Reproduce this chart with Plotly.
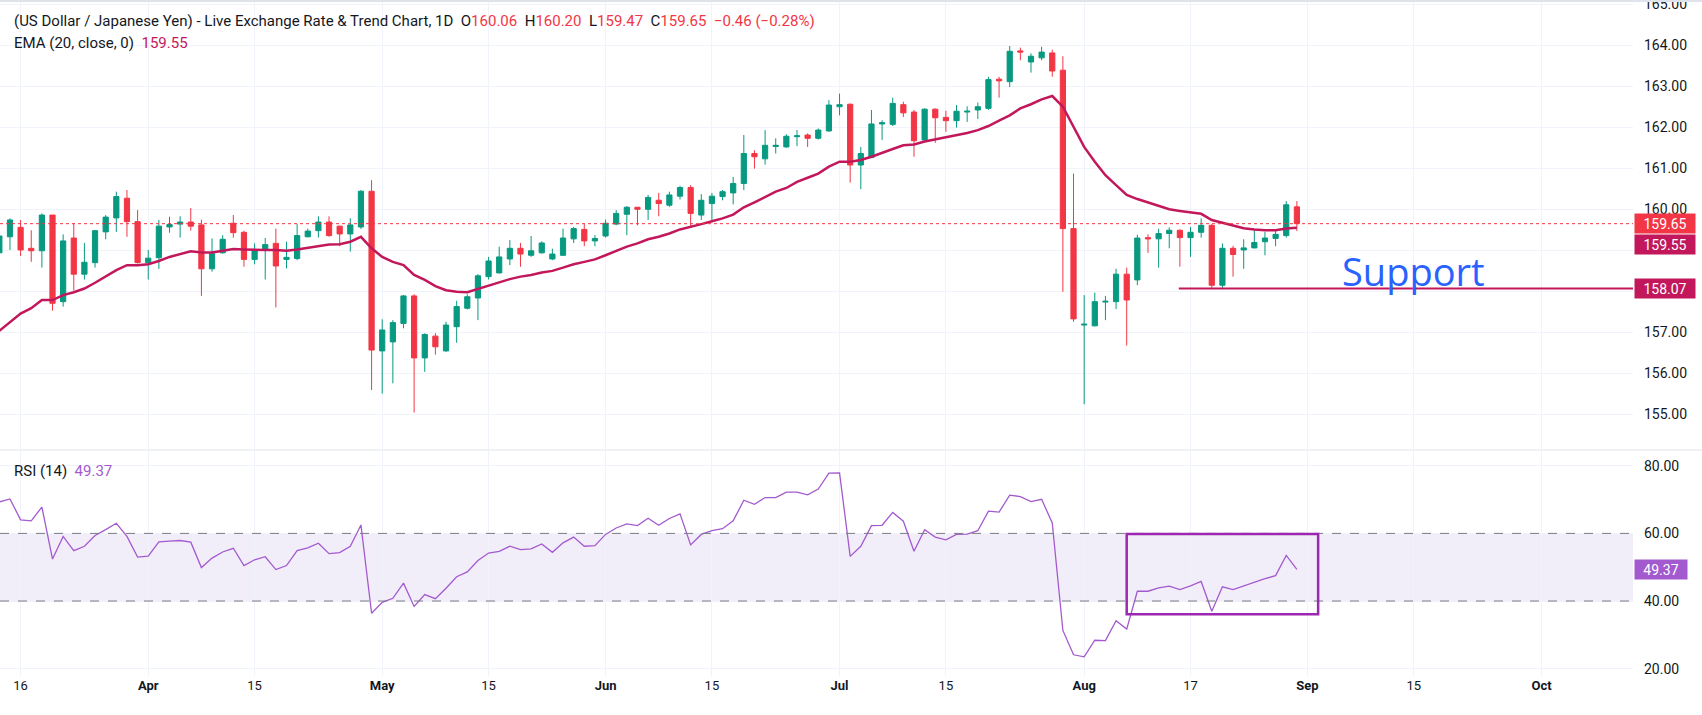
import pandas as pd
import plotly.graph_objects as go
from plotly.subplots import make_subplots

# trading days (candles centred at noon so weekend breaks don't clip them)
dates = pd.bdate_range("2026-03-12", "2026-08-31") + pd.Timedelta(hours=12)

open_ = [158.94, 159.33, 159.56, 159.05, 158.99, 159.86, 157.75, 159.30, 158.42, 158.70, 159.45, 159.79, 160.27, 159.70,
         158.70, 158.82, 159.57, 159.64, 159.69, 159.62, 158.55, 158.94, 159.66, 159.44, 158.78, 159.01, 159.17, 158.78,
         158.80, 159.33, 159.48, 159.69, 159.59, 159.40, 159.57, 160.44,
         156.55, 156.77, 157.22, 157.89, 156.38, 156.91, 156.55, 157.14, 157.59, 157.84, 158.36, 158.45, 158.79, 159.05,
         158.88, 158.94, 158.79, 158.88, 159.28, 159.51, 159.23,
         159.35, 159.64, 159.88, 160.05, 160.00, 160.22, 160.10, 160.32, 160.53, 159.86, 160.14, 160.31, 160.40, 160.63,
         161.36, 161.23, 161.53, 161.52, 161.77, 161.81, 161.73, 161.91,
         162.50, 162.56, 161.08, 161.26, 162.08, 162.07, 162.55, 162.37, 161.69, 162.44, 162.24, 162.16, 162.37, 162.42,
         162.46, 163.17, 163.11, 163.86, 163.59, 163.69, 163.81, 163.39, 159.53,
         157.18, 157.16, 157.74, 157.75, 158.42, 158.28, 159.31, 159.28, 159.41, 159.49, 159.31, 159.44, 159.61, 158.15,
         159.05, 159.01, 159.06, 159.21, 159.29, 159.36, 160.06]
high = [159.40, 159.78, 159.74, 159.49, 159.90, 159.86, 159.39, 159.67, 159.18, 159.49, 159.86, 160.43, 160.47, 159.98,
        159.01, 159.74, 159.82, 159.83, 160.03, 159.75, 159.29, 159.37, 159.86, 159.48, 159.17, 159.30, 159.53, 159.21,
        159.64, 159.53, 159.83, 159.83, 159.60, 159.78, 160.47, 160.71,
        157.32, 157.30, 157.91, 157.93, 156.98, 156.98, 157.26, 157.77, 157.93, 158.42, 158.84, 159.09, 159.25, 159.18,
        159.35, 159.22, 159.04, 159.53, 159.57, 159.64, 159.37,
        159.75, 159.98, 160.08, 160.06, 160.35, 160.40, 160.43, 160.57, 160.59, 160.37, 160.40, 160.47, 160.79, 161.81,
        161.44, 161.93, 161.73, 161.83, 161.93, 161.85, 161.97, 162.66,
        162.82, 162.58, 161.52, 162.42, 162.17, 162.72, 162.62, 162.42, 162.46, 162.46, 162.40, 162.54, 162.51, 162.60,
        163.23, 163.23, 163.98, 163.94, 163.80, 163.96, 163.89, 163.73, 160.87,
        157.91, 157.97, 157.89, 158.55, 158.58, 159.38, 159.39, 159.53, 159.56, 159.51, 159.57, 159.78, 159.64, 159.17,
        159.11, 159.27, 159.51, 159.45, 159.51, 160.20, 160.20]
low = [158.90, 159.01, 158.86, 158.72, 158.58, 157.53, 157.63, 158.02, 158.29, 158.58, 159.27, 159.45, 159.33, 158.68,
       158.29, 158.55, 159.43, 159.31, 159.48, 157.89, 158.48, 158.92, 159.31, 158.60, 158.66, 158.29, 157.61, 158.56,
       158.76, 159.32, 159.31, 159.33, 159.10, 158.97, 159.52, 155.60,
       155.51, 155.76, 157.10, 155.05, 156.04, 156.46, 156.53, 156.75, 157.56, 157.30, 158.29, 158.44, 158.64, 158.60,
       158.84, 158.92, 158.76, 158.86, 159.18, 159.10, 159.10,
       159.31, 159.61, 159.37, 159.61, 159.74, 159.83, 160.06, 160.24, 159.57, 159.74, 159.74, 160.22, 160.12, 160.47,
       160.99, 161.09, 161.36, 161.50, 161.54, 161.52, 161.70, 161.89,
       162.29, 160.65, 160.49, 161.25, 161.69, 162.03, 162.25, 161.28, 161.68, 161.62, 161.89, 161.99, 162.13, 162.20,
       162.42, 162.72, 162.98, 163.63, 163.33, 163.63, 163.23, 157.99, 157.26,
       155.25, 157.15, 157.30, 157.57, 156.68, 158.15, 158.94, 158.58, 159.05, 158.60, 158.84, 159.31, 158.07, 158.05,
       158.36, 158.55, 159.05, 158.88, 159.10, 159.31, 159.47]
close = [159.35, 159.74, 159.01, 158.99, 159.86, 157.71, 159.23, 158.42, 158.71, 159.48, 159.81, 160.31, 159.70, 158.70,
         158.81, 159.59, 159.63, 159.69, 159.59, 158.55, 158.92, 159.27, 159.43, 158.78, 158.99, 159.14, 158.62, 158.83,
         159.36, 159.47, 159.69, 159.36, 159.40, 159.62, 160.44, 156.57,
         157.06, 157.24, 157.89, 156.38, 156.95, 156.65, 157.18, 157.63, 157.87, 158.38, 158.74, 158.84, 159.05, 158.91,
         158.99, 159.18, 158.91, 159.30, 159.53, 159.23, 159.29,
         159.66, 159.90, 160.05, 160.00, 160.29, 160.14, 160.35, 160.53, 159.90, 160.22, 160.32, 160.43, 160.63, 161.36,
         161.28, 161.56, 161.56, 161.78, 161.79, 161.73, 161.93, 162.54,
         162.55, 161.08, 161.36, 162.08, 162.11, 162.58, 162.35, 161.67, 162.44, 162.23, 162.16, 162.39, 162.39, 162.50,
         163.16, 163.13, 163.85, 163.83, 163.73, 163.83, 163.37, 159.53, 157.33,
         157.20, 157.75, 157.76, 158.42, 157.79, 159.30, 159.28, 159.41, 159.49, 159.31, 159.44, 159.61, 158.15, 159.05,
         158.90, 159.06, 159.19, 159.30, 159.39, 160.11, 159.65]
ema20 = [157.04, 157.26, 157.46, 157.59, 157.79, 157.79, 157.91, 157.98, 158.07, 158.21, 158.36, 158.52, 158.64, 158.64,
         158.66, 158.74, 158.84, 158.91, 158.98, 158.95, 158.95, 158.99, 159.03, 159.02, 159.01, 159.01, 159.01, 158.99,
         159.02, 159.06, 159.11, 159.14, 159.15, 159.21, 159.33, 159.05,
         158.84, 158.72, 158.64, 158.40, 158.28, 158.13, 158.03, 157.99, 157.98, 158.06, 158.15, 158.23, 158.30, 158.36,
         158.40, 158.46, 158.50, 158.58, 158.66, 158.72, 158.78,
         158.88, 158.99, 159.09, 159.17, 159.27, 159.33, 159.41, 159.51, 159.57, 159.64, 159.71, 159.78, 159.87, 160.05,
         160.17, 160.31, 160.43, 160.52, 160.67, 160.77, 160.87, 161.04,
         161.16, 161.16, 161.20, 161.28, 161.38, 161.47, 161.56, 161.58, 161.65, 161.70, 161.75, 161.81, 161.86, 161.93,
         162.03, 162.16, 162.29, 162.46, 162.56, 162.68, 162.76, 162.50, 162.01,
         161.52, 161.16, 160.83, 160.59, 160.35, 160.25, 160.17, 160.09, 160.00, 159.96, 159.92, 159.89, 159.74, 159.67,
         159.60, 159.54, 159.51, 159.49, 159.49, 159.53, 159.55]
rsi14 = [69.3, 70.2, 64.0, 63.7, 67.8, 52.4, 59.1, 54.9, 56.2, 59.4, 61.1, 63.0, 59.1, 53.0,
         53.3, 57.5, 57.7, 57.9, 57.4, 49.9, 52.7, 54.5, 55.6, 50.5, 52.2, 53.1, 49.3, 50.5,
         54.9, 55.7, 57.1, 54.0, 54.3, 56.2, 62.5, 36.4,
         39.6, 40.8, 45.3, 38.4, 41.9, 40.7, 43.8, 47.2, 48.6, 52.0, 54.2, 54.7, 56.2, 55.2,
         55.4, 56.9, 54.4, 57.2, 58.9, 56.2, 56.4,
         59.7, 61.6, 62.8, 62.3, 64.5, 62.4, 64.4, 65.8, 56.6, 59.7, 60.8, 61.4, 63.7, 69.8,
         68.6, 70.6, 70.6, 72.2, 72.2, 71.4, 73.1, 77.8,
         77.9, 53.2, 56.2, 62.3, 62.4, 66.2, 63.6, 54.7, 61.1, 58.9, 58.1, 59.7, 59.8, 60.8,
         66.6, 66.3, 71.3, 70.9, 69.4, 70.1, 63.1, 31.3, 24.1,
         23.5, 28.4, 28.3, 34.2, 31.7, 42.9, 42.9, 43.9, 44.4, 43.4, 44.5, 45.8, 37.0, 44.2,
         43.4, 44.5, 45.7, 46.6, 47.5, 53.5, 49.37]

tick_dates = ["2026-03-16", "2026-04-01", "2026-04-15", "2026-05-01", "2026-05-15", "2026-06-01", "2026-06-15",
              "2026-07-01", "2026-07-15", "2026-08-03", "2026-08-17", "2026-09-01", "2026-09-15", "2026-10-01"]
tick_labels = ["16", "<b>Apr</b>", "15", "<b>May</b>", "15", "<b>Jun</b>", "15",
               "<b>Jul</b>", "15", "<b>Aug</b>", "17", "<b>Sep</b>", "15", "<b>Oct</b>"]
tick_x = [pd.Timestamp(d) + pd.Timedelta(hours=12) for d in tick_dates]

price_ticks = [155, 156, 157, 158, 159, 160, 161, 162, 163, 164, 165]
# 158 and 159 sit under the price tags
price_labels = ["155.00", "156.00", "157.00", "", "", "160.00", "161.00", "162.00", "163.00", "164.00", "165.00"]
rsi_ticks = [20, 40, 60, 80]
rsi_labels = ["20.00", "40.00", "60.00", "80.00"]

last_price = 159.65
support_level = 158.07
rsi_box = [("2026-08-07 12:00", "2026-09-02 12:00"), (36.1, 59.8)]

x_range = ["2026-03-12 13:30", "2026-10-14 02:30"]

GREEN = "#089981"
RED = "#F23645"
EMA_COL = "#C2185B"
RSI_COL = "#A35ACF"
TXT = "#131722"
GRID = "#F0F3FA"
FONT = "Roboto"

fig = make_subplots(rows=2, cols=1, shared_xaxes=True, vertical_spacing=0.003)

fig.add_trace(go.Candlestick(
    x=dates, open=open_, high=high, low=low, close=close,
    increasing=dict(line=dict(color=GREEN, width=1), fillcolor=GREEN),
    decreasing=dict(line=dict(color=RED, width=1), fillcolor=RED),
    hoverinfo="skip"), row=1, col=1)
fig.add_trace(go.Scatter(x=dates, y=ema20, mode="lines", line=dict(color=EMA_COL, width=2.5),
                         hoverinfo="skip"), row=1, col=1)
fig.add_trace(go.Scatter(x=dates, y=rsi14, mode="lines", line=dict(color=RSI_COL, width=1.3),
                         hoverinfo="skip"), row=2, col=1)

breaks = [dict(bounds=["sat", "mon"])]
fig.update_xaxes(range=x_range, rangebreaks=breaks, tickvals=tick_x, ticktext=tick_labels, automargin=False,
                 showgrid=True, gridcolor=GRID, gridwidth=1, zeroline=False, showline=False,
                 ticks="", tickfont=dict(family=FONT, size=13, color=TXT))
fig.update_xaxes(showticklabels=False, rangeslider_visible=False, row=1, col=1)

fig.update_yaxes(side="right", showgrid=True, gridcolor=GRID, zeroline=False, showline=False, ticks="",
                 automargin=False, ticklabeloverflow="allow",
                 tickfont=dict(family=FONT, size=14, color=TXT), ticklabelstandoff=10)
fig.update_yaxes(range=[154.16, 165.10], tickvals=price_ticks, ticktext=price_labels,
                 domain=[0.3358, 1], row=1, col=1)
fig.update_yaxes(range=[17.83, 84.36], tickvals=rsi_ticks, ticktext=rsi_labels,
                 domain=[0, 0.3328], row=2, col=1)

# RSI band and levels
fig.add_shape(type="rect", xref="x2 domain", yref="y2", x0=0, x1=1, y0=40, y1=60,
              fillcolor="rgba(126,87,194,0.1)", line_width=0, layer="below")
for lvl in (40, 60):
    fig.add_shape(type="line", xref="x2 domain", yref="y2", x0=0, x1=1, y0=lvl, y1=lvl,
                  line=dict(color="#787B86", width=1, dash="dash"))
fig.add_shape(type="rect", xref="x2", yref="y2", x0=rsi_box[0][0], x1=rsi_box[0][1],
              y0=rsi_box[1][0], y1=rsi_box[1][1], line=dict(color="#9C27B0", width=2.5))

# last price line, support line
fig.add_shape(type="line", xref="x domain", yref="y", x0=0, x1=1, y0=last_price, y1=last_price,
              line=dict(color=RED, width=1, dash="dot"))
fig.add_shape(type="line", xref="x", yref="y", x0="2026-08-14 09:30", x1=x_range[1],
              y0=support_level, y1=support_level, line=dict(color=EMA_COL, width=2))

# pane separator and borders
fig.add_shape(type="line", xref="paper", yref="paper", x0=0, x1=1.05, y0=0.3343, y1=0.3343,
              line=dict(color="#E0E3EB", width=1))
fig.add_shape(type="line", xref="paper", yref="paper", x0=0, x1=1.05, y0=1, y1=1,
              line=dict(color="#E0E3EB", width=4))

fig.add_annotation(x="2026-09-15 12:00", y=158.5, xref="x", yref="y", text="Support", showarrow=False,
                   font=dict(family="Open Sans", size=38, color="#2962FF"))

# price axis tags
tags = [(last_price, "159.65", RED, 0), (ema20[-1], "159.55", EMA_COL, -17), (support_level, "158.07", EMA_COL, 0)]
for val, txt, col, shift in tags:
    fig.add_annotation(x=1, xref="paper", y=val, yref="y", yshift=shift, xanchor="left", xshift=1,
                       text=txt, showarrow=False, bgcolor=col, width=58, height=17,
                       font=dict(family=FONT, size=14, color="white"))
fig.add_annotation(x=1, xref="paper", y=rsi14[-1], yref="y2", xanchor="left", xshift=1,
                   text="49.37", showarrow=False, bgcolor=RSI_COL, width=50, height=17,
                   font=dict(family=FONT, size=14, color="white"))

# legend texts
hdr = ("(US Dollar / Japanese Yen) - Live Exchange Rate &amp; Trend Chart, 1D&nbsp;&nbsp;"
       "O<span style='color:#F23645'>160.06</span>&nbsp;&nbsp;H<span style='color:#F23645'>160.20</span>&nbsp;&nbsp;"
       "L<span style='color:#F23645'>159.47</span>&nbsp;&nbsp;C<span style='color:#F23645'>159.65</span>&nbsp;&nbsp;"
       "<span style='color:#F23645'>−0.46 (−0.28%)</span>")
fig.add_annotation(x=0.0072, y=1 - 21 / 676, xref="paper", yref="paper", xanchor="left", yanchor="middle",
                   text=hdr, showarrow=False, font=dict(family=FONT, size=15, color=TXT))
fig.add_annotation(x=0.0072, y=1 - 42.5 / 676, xref="paper", yref="paper", xanchor="left", yanchor="middle",
                   text="EMA (20, close, 0)&nbsp;&nbsp;<span style='color:#C2185B'>159.55</span>", showarrow=False,
                   font=dict(family=FONT, size=15, color=TXT))
fig.add_annotation(x=0.0072, y=1 - 471 / 676, xref="paper", yref="paper", xanchor="left", yanchor="middle",
                   text="RSI (14)&nbsp;&nbsp;<span style='color:#A35ACF'>49.37</span>", showarrow=False,
                   font=dict(family=FONT, size=15, color=TXT))

fig.update_layout(width=1702, height=715, margin=dict(l=0, r=69, t=0, b=39),
                  paper_bgcolor="white", plot_bgcolor="white", showlegend=False,
                  boxgap=0.3, hovermode=False)

# drop the browser's default 8px body margin so the figure fills the window
fig.write_html("out.html", config={"displayModeBar": False},
               post_script="document.body.style.margin='0';")
